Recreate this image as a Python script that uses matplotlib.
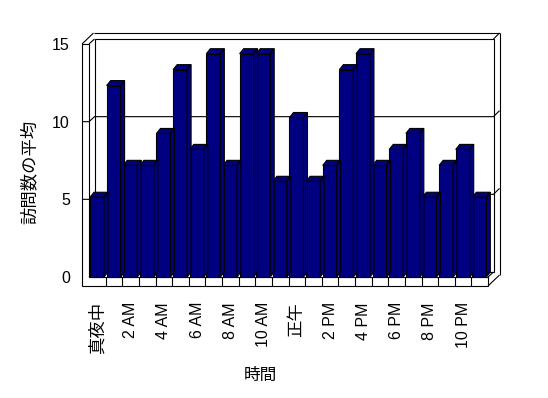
import matplotlib
matplotlib.use("Agg")
import matplotlib.pyplot as plt
from matplotlib.patches import Polygon, Rectangle
import numpy as np

# ---- data ----
hours = list(range(24))
visits = [5, 12, 7, 7, 9, 13, 8, 14, 7, 14, 14, 6,
          10, 6, 7, 13, 14, 7, 8, 9, 5, 7, 8, 5]
tick_positions = list(range(0, 24, 2))
tick_labels = ["真夜中", "2 AM", "4 AM", "6 AM", "8 AM", "10 AM",
               "正午", "2 PM", "4 PM", "6 PM", "8 PM", "10 PM"]
y_ticks = [0, 5, 10, 15]
x_title = "時間"
y_title = "訪問数の平均"

FONT = ["Liberation Sans", "Noto Sans CJK JP", "DejaVu Sans"]
plt.rcParams["font.family"] = FONT

W, H = 548, 398
fig = plt.figure(figsize=(W / 100, H / 100), dpi=100, facecolor="white")

# front plane of the 3D box (pixels)
L_px, R_px, B_px, T_px = 89, 488, 277, 44
pos = [L_px / W, 1 - B_px / H, (R_px - L_px) / W, (B_px - T_px) / H]

NAVY = "#000080"
LW = 0.8

# ---------- wall / frame axes ----------
axw = fig.add_axes(pos, zorder=1)
ncat = len(hours)
axw.set_xlim(-0.5, ncat - 0.5)
axw.set_ylim(0, 15)
for s in axw.spines.values():
    s.set_visible(False)
axw.patch.set_visible(False)

ux = (R_px - L_px) / ncat          # px per category
uy = (B_px - T_px) / 15.0          # px per value unit on wall
def dxu(px): return px / ux
def dyu(px): return px / uy

xl, xr = -0.5, ncat - 0.5
wall_t = dxu(7)
floor_t = dyu(9)
oxi, oyi = dxu(5.5), dyu(5)      # inner back-plane offset
oxo, oyo = dxu(11.5), dyu(11)    # outer back offset
ytop = 15

kw = dict(color="black", lw=LW, clip_on=False, solid_capstyle="butt")

# back wall inner face
axw.add_patch(Rectangle((xl + oxi, oyi), (xr - xl), ytop, facecolor="white",
                        edgecolor="black", lw=LW, clip_on=False))
# L-shaped front faces of left wall and floor
axw.add_patch(Polygon([(xl - wall_t, -floor_t), (xr, -floor_t), (xr, 0),
                       (xl, 0), (xl, ytop), (xl - wall_t, ytop)],
                      closed=True, facecolor="white", edgecolor="black",
                      lw=LW, clip_on=False))
# outer edges
axw.plot([xl - wall_t, xl - wall_t + oxo], [ytop, ytop + oyo], **kw)
axw.plot([xl - wall_t + oxo, xr + oxo], [ytop + oyo, ytop + oyo], **kw)
axw.plot([xr + oxo, xr + oxo], [ytop + oyo, -floor_t + oyo], **kw)
axw.plot([xr, xr + oxo], [-floor_t, -floor_t + oyo], **kw)
axw.plot([xr + oxi, xr + oxo], [ytop + oyi, ytop + oyo], **kw)
axw.plot([xl, xl + oxi], [ytop, ytop + oyi], **kw)
axw.plot([xl, xl + oxi], [0, oyi], **kw)
axw.plot([xr, xr + oxi], [0, oyi], **kw)
# gridlines
for v in y_ticks[1:-1]:
    axw.plot([xl - wall_t, xl, xl + oxi, xr + oxi, xr + oxo],
             [v, v, v + oyi, v + oyi, v + oyo], **kw)
# floor front category divisions
for k in range(1, ncat):
    axw.plot([k - 0.5, k - 0.5], [-floor_t, 0], **kw)

axw.set_yticks(y_ticks)
axw.set_yticklabels([str(t) for t in y_ticks])
axw.tick_params(axis="y", length=0, pad=13.7, labelsize=11.5)
axw.set_xticks(tick_positions)
axw.set_xticklabels(tick_labels, rotation=90, va="top", ha="center")
axw.tick_params(axis="x", length=0, pad=18, labelsize=11.5)
for lab in axw.get_xticklabels():
    lab.set_family(FONT)
    if not lab.get_text().isascii():
        lab.set_fontsize(12.5)

axw.set_xlabel(x_title, fontsize=12, va="center")
axw.xaxis.set_label_coords((260 - L_px) / (R_px - L_px), (B_px - 375) / (B_px - T_px))
axw.set_ylabel(y_title, fontsize=12.5, va="center", rotation=90)
axw.yaxis.set_label_coords((29 - L_px) / (R_px - L_px), (B_px - 172) / (B_px - T_px))

# ---------- bars axes ----------
ax = fig.add_axes(pos, zorder=2)
bar_uy = 15.95                     # px per value unit for bar fronts
ax.set_xlim(-0.5, ncat - 0.5)
ax.set_ylim(0, (B_px - T_px) / bar_uy)
ax.axis("off")
ax.patch.set_visible(False)

bw = 0.84
bdx = 4 / ux
bdy = 5 / bar_uy
x = np.array(hours, dtype=float) - 0.02
bars = ax.bar(x, visits, width=bw, color=NAVY, edgecolor="black",
              linewidth=LW, clip_on=False, zorder=3)
for i, (b, v) in enumerate(zip(bars, visits)):
    Lb = b.get_x()
    Rb = Lb + b.get_width()
    top = Polygon([(Lb, v), (Rb, v), (Rb + bdx, v + bdy), (Lb + bdx, v + bdy)],
                  closed=True, facecolor=NAVY, edgecolor="black", lw=LW,
                  clip_on=False, zorder=3)
    side = Polygon([(Rb, 0), (Rb, v), (Rb + bdx, v + bdy), (Rb + bdx, bdy)],
                   closed=True, facecolor=NAVY, edgecolor="black", lw=LW,
                   clip_on=False, zorder=3)
    ax.add_patch(top)
    ax.add_patch(side)

fig.savefig("out.png", dpi=100, facecolor="white")
